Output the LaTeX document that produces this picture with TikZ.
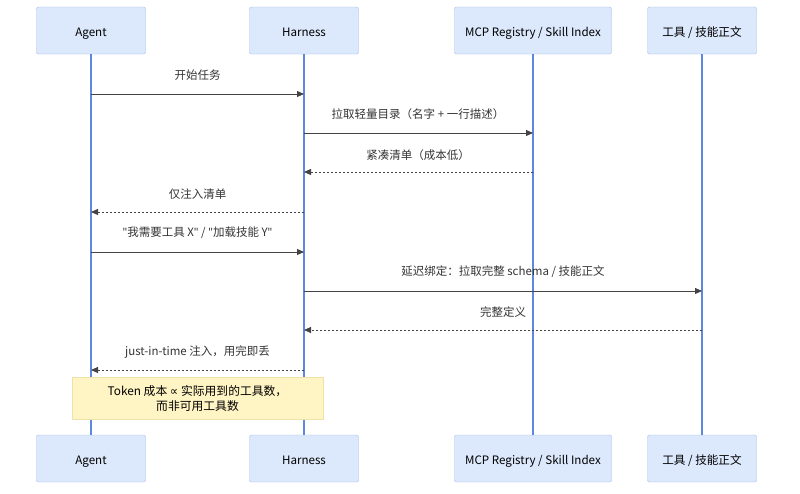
\documentclass[tikz,border=0pt]{standalone}
\usepackage{fontspec}
\setmainfont{Noto Sans CJK SC}
\newfontfamily\symfont{DejaVu Sans}
\newfontfamily\latfont[Ligatures=NoCommon]{Noto Sans}
\newcommand{\sq}{{\latfont\symbol{34}}}
\usetikzlibrary{arrows.meta}
\definecolor{boxfill}{HTML}{DCE8FB}
\definecolor{boxdraw}{HTML}{A3BCEB}
\definecolor{lifeln}{HTML}{5F86E0}
\definecolor{msgln}{HTML}{444444}
\definecolor{notefill}{HTML}{FFF4C4}
\definecolor{notedraw}{HTML}{EFE2A6}
\definecolor{txt}{HTML}{333333}
\begin{document}
\begin{tikzpicture}[x=1pt,y=-1pt,
  actor/.style={draw=boxdraw,fill=boxfill,rounded corners=2pt,minimum height=47pt,inner sep=0pt,text height=11pt,text depth=0pt,font=\fontsize{11.6}{13}\selectfont,text=black},
  life/.style={draw=lifeln,line width=1.3pt},
  msg/.style={draw=msgln,line width=0.9pt,-{Triangle[length=7pt,width=6pt]}},
  reply/.style={msg,dash pattern=on 2pt off 2pt},
  lbl/.style={font=\fontsize{11.5}{13}\selectfont,text=txt,inner sep=0pt},
  note/.style={draw=notedraw,fill=notefill,inner sep=0pt,font=\fontsize{11.8}{15}\selectfont,text=black,align=center}]
\useasboundingbox (0,0) rectangle (800,493);
% top actors
\node[actor,minimum width=109pt] (at) at (91,30.5) {Agent};
\node[actor,minimum width=109pt] (ht) at (304,30.5) {Harness};
\node[actor,minimum width=157pt] (mt) at (533,30.5) {MCP Registry / Skill Index};
\node[actor,minimum width=109pt] (tt) at (702,30.5) {工具 / 技能正文};
% bottom actors
\node[actor,minimum width=109pt] (ab) at (91,458.5) {Agent};
\node[actor,minimum width=109pt] (hb) at (304,458.5) {Harness};
\node[actor,minimum width=157pt] (mb) at (533,458.5) {MCP Registry / Skill Index};
\node[actor,minimum width=109pt] (tb) at (702,458.5) {工具 / 技能正文};
% lifelines
\draw[life] (at.south) -- (ab.north);
\draw[life] (ht.south) -- (hb.north);
\draw[life] (mt.south) -- (mb.north);
\draw[life] (tt.south) -- (tb.north);
% message anchors
\foreach \n/\y in {1/94,2/133,3/172,4/212,5/252,6/291,7/330,8/370}{
  \coordinate (a\n) at (91,\y);
  \coordinate (h\n) at (304,\y);
  \coordinate (m\n) at (533,\y);
  \coordinate (t\n) at (702,\y);
}
\draw[msg] (a1) -- (h1);
\node[lbl] (l1) at (197.5,75) {开始任务};
\draw[msg] (h2) -- (m2);
\node[lbl] (l2) at (418,114) {拉取轻量目录（名字 + 一行描述）};
\draw[reply] (m3) -- (h3);
\node[lbl] (l3) at (418,155) {紧凑清单（成本低）};
\draw[reply] (h4) -- (a4);
\node[lbl] (l4) at (197.5,194) {仅注入清单};
\draw[msg] (a5) -- (h5);
\node[lbl] (l5) at (197.5,233) {\sq 我需要工具 X\sq{} / \sq 加载技能 Y\sq};
\draw[msg] (h6) -- (t6);
\node[lbl] (l6) at (503,272) {延迟绑定：拉取完整 schema / 技能正文};
\draw[reply] (t7) -- (h7);
\node[lbl] (l7) at (503,312) {完整定义};
\draw[reply] (h8) -- (a8);
\node[lbl] (l8) at (197.5,352) {just-in-time 注入，用完即丢};
% note
\node[note,minimum width=251pt,minimum height=42pt] (nt) at (197.5,398) {Token 成本 {\symfont ∝} 实际用到的工具数，\\而非可用工具数};
\end{tikzpicture}
\end{document}
